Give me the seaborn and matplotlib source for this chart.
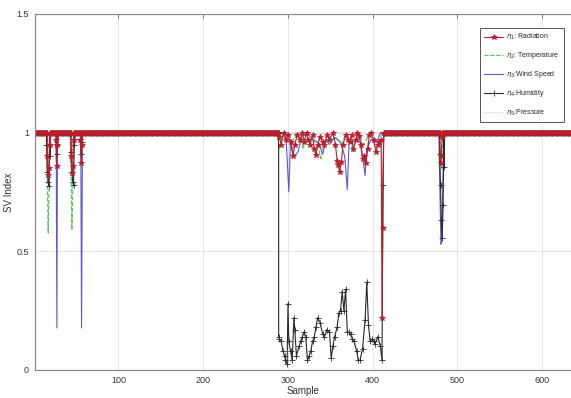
import numpy as np
import matplotlib
matplotlib.use("Agg")
import matplotlib.pyplot as plt
import seaborn as sns

sns.set_style("white")
plt.rcParams['font.family'] = ['Liberation Sans', 'DejaVu Sans']

# samples 1..660, every index value is 1 except inside the dips below
n_samples = 660
x_ticks = [100, 200, 300, 400, 500, 600]
y_ticks = [0, 0.5, 1, 1.5]
y_tick_labels = ['0', '0.5', '1', '1.5']

labels = [r'$\eta_1$: Radiation', r'$\eta_2$: Temperature', r'$\eta_3$:Wind Speed',
          r'$\eta_4$:Humidity', r'$\eta_5$:Pressure']

# each dip: (sample positions, SV index values)
rad_dips = [
    ([16, 17, 18, 19], [0.9, 0.82, 0.85, 0.95]),
    ([26, 27, 28], [0.97, 0.86, 0.95]),
    ([44, 45, 46, 47], [0.9, 0.83, 0.86, 0.97]),
    ([55, 56, 57], [0.97, 0.87, 0.95]),
    ([288, 290, 292, 295, 298, 300, 303, 306, 308, 311, 314, 317, 319, 322, 324, 326,
      329, 331, 333, 335, 338, 341, 343, 346, 349, 353, 356, 358, 359, 361, 363, 365,
      368, 371, 373, 375, 377, 380, 382, 384, 386, 388, 390, 392, 394, 396, 398, 401,
      404, 406, 408, 410, 411, 412, 413],
     [1.0, 0.98, 0.95, 1.0, 0.97, 0.99, 0.96, 0.9, 0.95, 0.99, 0.97, 1.0, 0.96, 1.0, 0.97, 0.95,
      0.99, 0.93, 0.905, 0.95, 0.98, 0.96, 0.95, 0.99, 0.97, 1.0, 0.95, 0.88, 0.865, 0.835, 0.875, 0.95,
      0.99, 0.97, 0.96, 0.99, 0.93, 0.97, 1.0, 0.985, 0.95, 0.89, 0.9, 0.87, 0.93, 0.99, 1.0, 0.97,
      0.92, 0.95, 0.96, 0.97, 0.22, 0.6, 1.0]),
    ([479, 480, 481, 482], [0.99, 0.87, 0.9, 0.98]),
]

temp_dips = [
    ([15, 16, 17, 18, 19], [0.95, 0.8, 0.577, 0.75, 0.95]),
    ([43, 44, 45, 46, 47], [0.95, 0.85, 0.59, 0.75, 1.0]),
    ([287, 290, 293, 296, 300, 305, 310, 315, 318, 321, 326, 330, 335, 339, 343, 348,
      352, 358, 363, 368, 373, 377, 381, 386, 390, 395, 400, 404, 408, 411],
     [1.0, 0.93, 0.98, 1.0, 0.98, 0.96, 1.0, 0.97, 0.93, 0.99, 0.97, 0.97, 0.95, 0.89, 0.96, 0.99,
      0.97, 0.98, 0.95, 0.99, 0.97, 0.92, 0.98, 0.97, 0.95, 0.99, 0.98, 0.92, 0.97, 1.0]),
    ([479, 481, 483], [0.95, 0.85, 0.97]),
]

wind_dips = [
    ([26.5, 27.3, 28], [1.0, 0.177, 1.0]),
    ([55.5, 56.4, 57.5], [1.0, 0.177, 1.0]),
    ([294, 296, 298, 301, 303, 307, 312, 316, 322, 329, 336, 341, 345, 349, 355, 362,
      367, 370, 372, 378, 385, 388, 391, 393, 398, 405, 409],
     [1.0, 0.98, 0.96, 0.75, 0.97, 0.9, 0.92, 0.98, 1.0, 0.97, 0.96, 0.91, 0.97, 0.95, 0.98, 0.96,
      0.9, 0.76, 0.95, 0.97, 0.96, 0.9, 0.82, 0.93, 0.97, 0.96, 1.0]),
    ([478, 480.5, 481.5, 484], [1.0, 0.53, 0.54, 1.0]),
]

hum_dips = [
    ([15, 16, 17, 18, 19], [0.95, 0.835, 0.79, 0.775, 0.9]),
    ([27, 28], [0.91, 0.95]),
    ([44, 45, 46, 47, 48], [0.92, 0.835, 0.79, 0.78, 0.95]),
    ([56, 57], [0.91, 0.96]),
    ([289, 290, 292, 294, 296, 297, 299, 300, 301, 303, 305, 307, 308, 310, 313, 315,
      317, 319, 321, 323, 325, 327, 329, 331, 333, 335, 338, 341, 343, 346, 349, 351,
      353, 355, 358, 360, 362, 364, 366, 368, 370, 372, 374, 376, 378, 381, 383, 385,
      388, 391, 393, 395, 397, 399, 401, 403, 406, 409, 411, 412, 413],
     [0.14, 0.13, 0.12, 0.08, 0.06, 0.04, 0.025, 0.28, 0.12, 0.08, 0.04, 0.22, 0.17, 0.06, 0.1, 0.12,
      0.14, 0.16, 0.14, 0.04, 0.06, 0.08, 0.12, 0.14, 0.18, 0.22, 0.2, 0.15, 0.14, 0.17, 0.16, 0.05,
      0.1, 0.14, 0.18, 0.24, 0.25, 0.33, 0.25, 0.34, 0.16, 0.16, 0.15, 0.13, 0.12, 0.08, 0.04, 0.04,
      0.09, 0.21, 0.37, 0.19, 0.12, 0.13, 0.12, 0.11, 0.14, 0.1, 0.04, 0.78, 1.0]),
    ([479, 480, 481, 482, 483, 484], [0.91, 0.78, 0.63, 0.555, 0.695, 0.855]),
]

pres_dips = [
    ([16, 17, 18], [0.95, 0.86, 0.95]),
    ([45, 46, 47], [0.95, 0.86, 0.95]),
    ([330, 333, 337, 340], [1.0, 0.89, 0.885, 1.0]),
    ([386, 389, 392, 395], [1.0, 0.88, 0.9, 1.0]),
]


def build(dips):
    # baseline of 1 everywhere, dropped inside each dip and replaced by the dip points
    xs = np.arange(1, n_samples + 1, dtype=float)
    keep = np.ones(len(xs), dtype=bool)
    for dx, _ in dips:
        keep &= ~((xs > dx[0]) & (xs < dx[-1]))
    px = list(xs[keep])
    py = [1.0] * len(px)
    for dx, dy in dips:
        px += list(dx)
        py += list(dy)
    order = np.argsort(px, kind='stable')
    return np.array(px)[order], np.array(py)[order]


fig = plt.figure(figsize=(5.71, 3.98), dpi=100)
ax = fig.add_axes([0.0606, 0.0704, 0.9394, 0.8945])

styles = [
    (rad_dips, labels[0], '#b81e2c', '-', '*', 3.8),
    (temp_dips, labels[1], '#55c455', '--', None, 0),
    (wind_dips, labels[2], '#5a5ad0', '-', None, 0),
    (hum_dips, labels[3], '#2a2a2a', '-', '+', 4),
    (pres_dips, labels[4], '#f2a6d8', ':', None, 0),
]
draw_order = [4, 1, 2, 3, 0]
for i in draw_order:
    dips, lab, col, ls, mk, ms = styles[i]
    x, y = build(dips)
    sns.lineplot(x=x, y=y, ax=ax, color=col, linestyle=ls, linewidth=0.8,
                 marker=mk, markersize=ms, markeredgecolor=col, markeredgewidth=0.6,
                 estimator=None, sort=False, label=lab)

h, l = ax.get_legend_handles_labels()
idx = [l.index(s) for s in labels]
leg = ax.legend([h[i] for i in idx], labels, loc='upper right', bbox_to_anchor=(0.993, 0.97),
                fontsize=5, handlelength=2.8, handletextpad=0.4, labelspacing=1.15,
                borderpad=0.6, frameon=True, fancybox=False, edgecolor='#555555', framealpha=1)
leg.get_frame().set_linewidth(0.7)

ax.set_xlim(1, 634)
ax.set_ylim(0, 1.5)
ax.set_xticks(x_ticks)
ax.set_xticklabels([str(t) for t in x_ticks])
ax.set_yticks(y_ticks)
ax.set_yticklabels(y_tick_labels)
ax.grid(True, color='#e4e4e4', linewidth=0.7)
ax.set_axisbelow(True)
ax.tick_params(direction='in', length=3, width=0.7, color='#777777', labelsize=6.5,
               labelcolor='#333333', top=True, pad=4)
for side in ['left', 'bottom', 'top']:
    ax.spines[side].set_color('#8a8a8a')
    ax.spines[side].set_linewidth(0.9)
ax.spines['right'].set_visible(False)
ax.set_xlabel('Sample', fontsize=7, color='#333333', labelpad=1)
ax.set_ylabel('SV Index', fontsize=7, color='#333333')
ax.yaxis.set_label_coords(-0.038, 0.5)

fig.savefig('out.png', dpi=100)
